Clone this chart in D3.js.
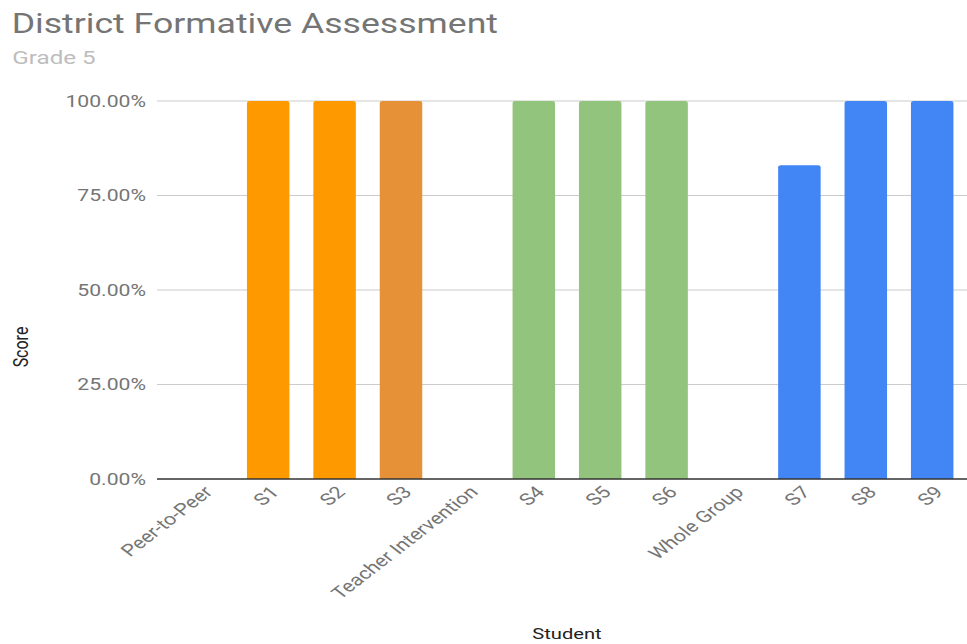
<!DOCTYPE html>
<html>
<head>
<meta charset="utf-8">
<script src="https://cdn.jsdelivr.net/npm/d3@7"></script>
<style>
  html, body { margin: 0; padding: 0; background: #fff; }
  svg { display: block; font-family: Roboto, "Noto Sans", Arial, sans-serif; }
</style>
</head>
<body>
<svg id="chart"></svg>
<script>
// Categories along the x axis (group headers carry no score)
const categories = ["Peer-to-Peer", "S1", "S2", "S3", "Teacher Intervention",
                    "S4", "S5", "S6", "Whole Group", "S7", "S8", "S9"];
// Score per category (fraction of 1); null = no bar
const scores = [null, 1.0, 1.0, 1.0, null, 1.0, 1.0, 1.0, null, 0.83, 1.0, 1.0];
// Y axis ticks
const yTicks = [0, 0.25, 0.5, 0.75, 1.0];

// Bar fill for each category
const palette = {
  "S1": "#ff9900", "S2": "#ff9900", "S3": "#e69138",
  "S4": "#93c47d", "S5": "#93c47d", "S6": "#93c47d",
  "S7": "#4285f4", "S8": "#4285f4", "S9": "#4285f4"
};

const WIDTH = 967, HEIGHT = 644;
const SX = 1.3;                 // horizontal stretch of the drawing
const W0 = WIDTH / SX;          // internal drawing width

const svg = d3.select("#chart")
  .attr("width", WIDTH).attr("height", HEIGHT)
  .attr("viewBox", `0 0 ${W0} ${HEIGHT}`)
  .attr("preserveAspectRatio", "none");

const plotLeft = 157 / SX;
const x = d3.scaleBand()
  .domain(categories)
  .range([168.6 / SX, 965.4 / SX])
  .paddingInner(0.36)
  .paddingOuter(0.18);

const y = d3.scaleLinear().domain([0, 1]).range([479, 101]);

// Title and subtitle
svg.append("text").attr("x", 9).attr("y", 33)
  .attr("font-size", 27.4).attr("fill", "#757575")
  .text("District Formative Assessment");
svg.append("text").attr("x", 9.5).attr("y", 64)
  .attr("font-size", 18.6).attr("fill", "#bdbdbd")
  .text("Grade 5");

// Gridlines
svg.append("g").selectAll("line")
  .data(yTicks.filter(d => d > 0))
  .join("line")
  .attr("x1", plotLeft).attr("x2", W0)
  .attr("y1", d => y(d)).attr("y2", d => y(d))
  .attr("stroke", "#cccccc").attr("stroke-width", 1.2);

// Y axis labels
const fmt = d3.format(".2%");
svg.append("g").selectAll("text")
  .data(yTicks)
  .join("text")
  .attr("x", 146 / SX).attr("y", d => y(d))
  .attr("dy", "0.35em")
  .attr("text-anchor", "end")
  .attr("font-size", 16.3).attr("fill", "#757575")
  .text(d => fmt(d));

// Bars with slightly rounded tops
const r = 2;
function barPath(d) {
  const x0 = x(d.cat), w = x.bandwidth();
  const yt = y(d.val), yb = y(0);
  return `M${x0},${yb}V${yt + r}Q${x0},${yt} ${x0 + r},${yt}` +
         `H${x0 + w - r}Q${x0 + w},${yt} ${x0 + w},${yt + r}V${yb}Z`;
}
svg.append("g").selectAll("path")
  .data(categories.map((c, i) => ({ cat: c, val: scores[i] })).filter(d => d.val != null))
  .join("path")
  .attr("d", barPath)
  .attr("fill", d => palette[d.cat]);

// Baseline
svg.append("line")
  .attr("x1", plotLeft).attr("x2", W0)
  .attr("y1", y(0)).attr("y2", y(0))
  .attr("stroke", "#333333").attr("stroke-width", 1.5);

// X axis labels, slanted
svg.append("g").selectAll("text")
  .data(categories)
  .join("text")
  .attr("transform", d => `translate(${x(d) + x.bandwidth() / 2 + 5},${489}) rotate(-45)`)
  .attr("dy", "0.35em")
  .attr("text-anchor", "end")
  .attr("font-size", 16.6).attr("fill", "#757575")
  .text(d => d);

// Axis titles
svg.append("text")
  .attr("transform", `translate(${21.8},${347}) rotate(-90)`)
  .attr("text-anchor", "middle")
  .attr("font-size", 16).attr("fill", "#222222")
  .text("Score");
svg.append("text")
  .attr("x", 567 / SX).attr("y", 639)
  .attr("text-anchor", "middle")
  .attr("font-size", 15.5).attr("fill", "#222222")
  .text("Student");
</script>
</body>
</html>
